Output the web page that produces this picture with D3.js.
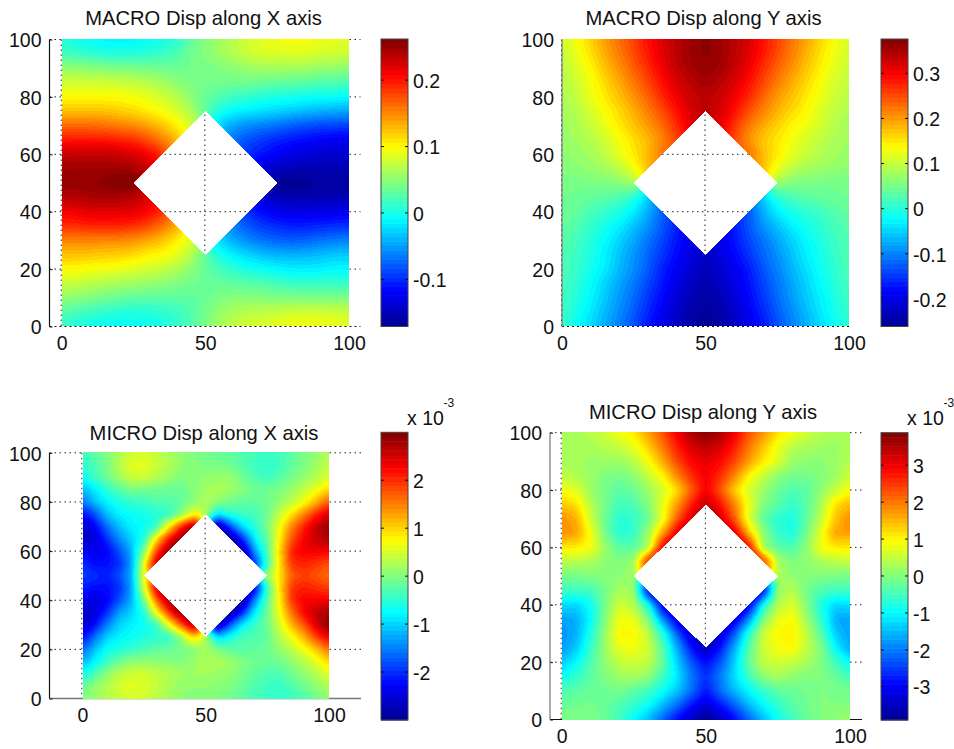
<!DOCTYPE html>
<html>
<head>
<meta charset="utf-8">
<script src="https://cdn.jsdelivr.net/npm/d3@7"></script>
<style>
	body { margin: 0; background: #fff; }
	svg { display: block; }
	text { font-family: "Liberation Sans", Arial, sans-serif; fill: #111; }
</style>
</head>
<body>
<script>
let n = null;

// rows run from y=100 down to y=0, columns from x=0 to x=100, step 5. null = the hole
let macroX = [
	[.005,-.005,-.01,-.015,-.015,-.015,-.01,-.005,.005,.03,.045,.06,.07,.08,.09,.095,.1,.1,.095,.09,.09],
	[.02,.015,.01,.005,.005,.005,.01,.015,.025,.04,.05,.06,.07,.08,.085,.085,.085,.085,.08,.08,.075],
	[.055,.055,.05,.05,.045,.045,.04,.04,.035,.04,.04,.045,.05,.055,.06,.06,.06,.06,.055,.055,.05],
	[.08,.08,.08,.08,.075,.075,.07,.06,.05,.045,.04,.04,.04,.04,.035,.035,.03,.03,.025,.025,.02],
	[.1,.1,.1,.1,.1,.095,.09,.08,.07,.05,.035,.025,.015,.01,.005,0,0,-.005,-.005,-.005,-.01],
	[.125,.125,.125,.125,.12,.115,.105,.095,.085,.065,.03,0,-.01,-.015,-.02,-.025,-.03,-.035,-.04,-.045,-.045],
	[.165,.165,.165,.16,.155,.15,.14,.125,.105,.08,n,-.03,-.05,-.06,-.065,-.07,-.08,-.085,-.09,-.09,-.095],
	[.2,.2,.2,.2,.195,.19,.175,.155,.13,n,n,n,-.07,-.085,-.095,-.105,-.11,-.115,-.12,-.125,-.125],
	[.23,.235,.235,.235,.23,.225,.215,.19,n,n,n,n,n,-.1,-.11,-.12,-.13,-.135,-.14,-.14,-.14],
	[.25,.25,.25,.25,.25,.245,.23,n,n,n,n,n,n,n,-.14,-.145,-.15,-.155,-.155,-.155,-.155],
	[.255,.255,.255,.26,.265,.27,n,n,n,n,n,n,n,n,n,-.175,-.175,-.17,-.165,-.165,-.16],
	[.24,.24,.245,.245,.245,.235,.22,n,n,n,n,n,n,n,-.14,-.15,-.155,-.155,-.155,-.155,-.155],
	[.21,.215,.22,.22,.22,.22,.21,.19,n,n,n,n,n,-.1,-.115,-.125,-.13,-.13,-.13,-.125,-.125],
	[.19,.19,.195,.195,.195,.19,.18,.16,.135,n,n,n,-.065,-.08,-.095,-.1,-.105,-.105,-.1,-.1,-.095],
	[.15,.15,.15,.15,.15,.145,.135,.125,.105,.085,n,-.025,-.045,-.06,-.07,-.075,-.08,-.075,-.07,-.065,-.06],
	[.125,.125,.125,.12,.12,.115,.105,.1,.09,.07,.03,0,-.015,-.025,-.035,-.04,-.04,-.04,-.035,-.03,-.03],
	[.1,.1,.095,.095,.09,.085,.08,.075,.065,.05,.035,.02,.01,0,-.005,-.01,-.015,-.015,-.015,-.01,-.01],
	[.075,.075,.07,.065,.06,.06,.055,.05,.045,.04,.035,.035,.03,.03,.025,.02,.015,.015,.015,.015,.015],
	[.055,.05,.045,.04,.035,.03,.03,.03,.03,.03,.035,.045,.05,.05,.05,.045,.045,.045,.045,.045,.045],
	[.03,.02,.015,.01,.005,.005,.005,.01,.015,.025,.04,.055,.065,.07,.07,.075,.08,.08,.08,.08,.075],
	[.01,0,-.005,-.01,-.01,-.01,-.005,0,.01,.025,.045,.065,.075,.085,.09,.095,.1,.1,.1,.095,.09]
];

let macroY = [
	[.1,.135,.165,.2,.23,.26,.29,.32,.34,.36,.37,.36,.34,.32,.29,.26,.225,.195,.165,.135,.11],
	[.095,.125,.155,.19,.22,.25,.285,.315,.34,.36,.37,.36,.34,.315,.285,.25,.22,.185,.155,.125,.105],
	[.09,.115,.14,.175,.205,.24,.27,.305,.335,.355,.365,.355,.335,.305,.27,.235,.205,.175,.145,.12,.1],
	[.085,.105,.13,.16,.19,.22,.255,.29,.32,.34,.355,.34,.32,.29,.255,.22,.19,.16,.135,.11,.095],
	[.08,.1,.125,.15,.175,.205,.235,.275,.305,.33,.34,.33,.305,.275,.235,.2,.175,.15,.125,.105,.09],
	[.075,.09,.11,.135,.16,.185,.22,.25,.29,.32,.345,.32,.29,.25,.215,.185,.16,.14,.115,.095,.085],
	[.07,.085,.1,.125,.15,.175,.2,.23,.27,.32,n,.32,.265,.22,.19,.165,.14,.13,.11,.09,.08],
	[.07,.08,.09,.105,.13,.155,.18,.21,.26,n,n,n,.26,.2,.17,.15,.13,.11,.095,.085,.075],
	[.065,.07,.08,.095,.125,.15,.18,.23,n,n,n,n,n,.24,.175,.15,.12,.105,.09,.08,.07],
	[.06,.065,.07,.08,.095,.125,.19,n,n,n,n,n,n,n,.19,.125,.095,.08,.075,.07,.065],
	[.05,.05,.055,.055,.06,.085,n,n,n,n,n,n,n,n,n,.08,.055,.055,.05,.05,.05],
	[.05,.045,.04,.035,.025,0,-.06,n,n,n,n,n,n,n,-.06,0,.025,.035,.04,.045,.05],
	[.045,.04,.02,.01,-.005,-.03,-.07,-.13,n,n,n,n,n,-.14,-.07,-.03,-.01,.005,.015,.03,.04],
	[.04,.03,.01,-.01,-.03,-.06,-.09,-.125,-.17,n,n,n,-.175,-.125,-.09,-.06,-.03,-.01,.005,.02,.035],
	[.035,.02,0,-.02,-.05,-.075,-.11,-.14,-.17,-.2,n,-.2,-.17,-.14,-.11,-.08,-.05,-.025,-.005,.015,.03],
	[.03,.015,-.005,-.03,-.06,-.09,-.12,-.15,-.18,-.205,-.225,-.205,-.18,-.15,-.12,-.09,-.06,-.03,-.01,.01,.03],
	[.03,.01,-.01,-.03,-.065,-.09,-.125,-.165,-.19,-.215,-.235,-.215,-.195,-.17,-.13,-.1,-.07,-.04,-.015,.005,.03],
	[.025,.005,-.02,-.05,-.08,-.105,-.14,-.17,-.2,-.225,-.24,-.225,-.2,-.175,-.14,-.11,-.08,-.05,-.02,0,.025],
	[.025,0,-.025,-.055,-.085,-.115,-.15,-.18,-.21,-.235,-.25,-.235,-.21,-.18,-.15,-.115,-.085,-.055,-.03,-.005,.02],
	[.02,-.01,-.035,-.065,-.095,-.125,-.16,-.19,-.22,-.245,-.255,-.245,-.22,-.19,-.16,-.125,-.095,-.065,-.035,-.01,.015],
	[.02,-.02,-.045,-.075,-.105,-.135,-.175,-.2,-.23,-.25,-.26,-.25,-.23,-.2,-.175,-.135,-.105,-.075,-.045,-.02,.01]
];

// micro values are in units of 10^-3, as on the colorbars
let microX = [
	[-.4,-.2,0,.25,.45,.5,.4,.25,.1,0,-.1,-.15,-.2,-.3,-.35,-.4,-.35,-.2,-.05,.1,.3],
	[-.55,-.3,-.05,.3,.6,.6,.45,.3,.1,.05,0,-.05,-.1,-.25,-.4,-.5,-.4,-.2,0,.2,.4],
	[-.7,-.4,-.1,.2,.45,.45,.3,.15,0,.05,.1,.15,.15,-.1,-.3,-.4,-.25,-.05,.1,.3,.55],
	[-1.2,-.85,-.5,-.25,-.05,-.1,-.1,-.15,-.15,.05,.2,.25,.2,.05,-.1,-.1,0,.15,.4,.65,1],
	[-1.6,-1.1,-.8,-.6,-.45,-.4,-.3,-.25,-.2,.05,.25,.1,-.1,-.2,-.2,-.1,.1,.35,.7,1.2,1.8],
	[-2.3,-1.8,-1.1,-.8,-.7,-.65,-.55,-.5,0,.7,.3,-.9,-.5,-.4,-.35,-.1,.4,.9,1.5,2.1,2.5],
	[-2.7,-2.3,-1.6,-1.1,-.8,-.7,-.5,.8,2,2.9,n,-3,-1.8,-.9,-.5,-.05,.7,1.5,2.1,2.6,2.9],
	[-2.7,-2.5,-2,-1.4,-1,-.6,.9,2.1,3,n,n,n,-3,-2,-.8,-.15,.8,1.8,2.3,2.6,2.75],
	[-2.3,-2.4,-2.3,-1.8,-1.2,0,1.8,3,n,n,n,n,n,-2.9,-1.3,-.3,1,2.1,2.35,2.3,2.3],
	[-2,-2.2,-2.2,-2,-1.3,.6,2.6,n,n,n,n,n,n,n,-2,-.4,.9,2,2.05,1.95,1.8],
	[-1.9,-2,-2.1,-1.8,-1.2,.7,n,n,n,n,n,n,n,n,n,.2,.9,1.7,1.9,1.75,1.6],
	[-2.1,-2.2,-2.2,-2,-1.3,.5,2.5,n,n,n,n,n,n,n,-2.4,-.4,.9,2,2.1,2,1.9],
	[-2.4,-2.5,-2.3,-1.8,-1.2,-.1,1.6,2.9,n,n,n,n,n,-3,-1.4,-.2,.8,2,2.3,2.3,2.3],
	[-2.7,-2.5,-2,-1.3,-1,-.6,.7,1.9,3,n,n,n,-3,-2,-.8,-.1,.7,1.6,2.3,2.6,2.8],
	[-2.7,-2.2,-1.5,-1,-.8,-.7,-.5,.6,1.7,2.8,n,-2.9,-1.7,-.8,-.4,-.1,.5,1.2,1.8,2.5,3],
	[-2.3,-1.6,-1,-.8,-.7,-.6,-.5,-.5,.1,1,.3,-1,-.6,-.3,-.3,-.2,.3,.7,1.2,1.9,2.4],
	[-1.7,-1.1,-.7,-.55,-.45,-.3,-.2,-.15,-.1,.05,.2,0,-.2,-.25,-.2,-.1,.1,.35,.7,1.1,1.6],
	[-1.2,-.8,-.4,-.1,.1,.1,.1,.05,0,.15,.3,.25,.2,0,-.1,-.15,-.1,.1,.3,.6,1],
	[-.7,-.3,.1,.35,.5,.5,.4,.3,.2,.2,.2,.15,.1,-.05,-.2,-.3,-.3,-.1,.1,.3,.6],
	[-.2,.1,.3,.5,.6,.55,.4,.25,.1,.1,.1,.05,0,-.15,-.3,-.4,-.45,-.3,-.1,.1,.3],
	[0,.15,.3,.4,.5,.45,.35,.2,.1,.05,.05,0,-.1,-.2,-.35,-.4,-.45,-.4,-.3,-.1,.1]
];

let microY = [
	[.3,.3,.4,.6,.9,1.1,1.7,2.3,3,3.6,3.9,3.6,3,2.3,1.8,1.2,.9,.6,.4,.3,.3],
	[.3,.3,.3,.4,.5,.8,1.3,2,2.7,3.2,3.4,3.2,2.7,2,1.4,.8,.4,.3,.2,.2,.3],
	[.3,.25,.2,.2,.2,.4,.9,1.6,2.4,2.9,3.1,2.9,2.4,1.7,1.1,.7,.2,.1,.1,.2,.4],
	[.5,.35,.2,0,-.1,.1,.5,1,1.9,2.6,3,2.6,1.9,1,.5,.1,-.1,-.1,0,.2,.6],
	[.9,.7,.2,-.1,-.3,-.2,.2,.6,1.2,2.2,3,2.3,1.3,.6,.2,-.2,-.4,-.3,.1,.5,1],
	[1.4,1.2,.4,-.1,-.5,-.4,0,.8,1.7,2.7,3.4,2.8,1.9,.8,0,-.3,-.6,-.3,.3,1.2,1.5],
	[1.8,1.6,.6,-.2,-.7,-.6,-.2,.8,2.2,3.3,n,3.3,2.2,.7,-.3,-.7,-.8,-.3,.5,1.4,1.9],
	[1.8,1.7,.9,-.1,-.7,-.6,.2,1.6,3.2,n,n,n,3.2,1.4,.1,-.6,-.8,-.1,.8,1.7,1.7],
	[1.1,1.1,.9,.2,-.3,-.3,.3,3.1,n,n,n,n,n,3,.2,-.3,-.4,.1,.9,1.1,1.1],
	[.4,.4,.3,.1,0,.2,2.9,n,n,n,n,n,n,n,2.6,.3,0,.1,.3,.4,.5],
	[-.1,-.1,0,.05,.1,.2,n,n,n,n,n,n,n,n,n,.3,.1,.05,0,-.05,-.1],
	[-.5,-.5,-.5,-.1,.3,.2,-3.1,n,n,n,n,n,n,n,-3,.2,.4,-.1,-.4,-.5,-.5],
	[-1.2,-1.3,-.9,-.1,.6,.4,-.8,-3.2,n,n,n,n,n,-3.2,-.8,.4,.7,0,-.8,-1.3,-1.2],
	[-1.7,-1.6,-1,0,.9,.8,0,-1.8,-3.3,n,n,n,-3.3,-1.8,0,.8,1,.2,-.6,-1.6,-1.7],
	[-1.8,-1.6,-.8,.2,1,1,.5,-.7,-2.2,-3.4,n,-3.4,-2.2,-.7,.6,1,1.1,.5,-.3,-1.4,-1.7],
	[-1.8,-1.4,-.6,.2,.8,.9,.6,-.3,-1.6,-2.8,-3.6,-2.8,-1.6,-.3,.6,.9,1,.5,0,-1,-1.7],
	[-1.4,-1,-.4,.1,.5,.6,.5,-.2,-1.3,-2.3,-2.9,-2.3,-1.3,-.2,.5,.6,.5,.3,0,-.5,-1],
	[-.9,-.6,-.3,0,.2,.3,.1,-.5,-1.1,-2,-2.6,-2,-1.2,-.5,.1,.3,.1,0,0,-.2,-.5],
	[-.4,-.3,-.2,-.15,-.1,-.3,-.5,-.9,-1.4,-2.1,-2.8,-2.1,-1.5,-1,-.6,-.3,-.2,-.1,0,-.05,-.1],
	[-.2,-.15,-.1,-.2,-.4,-.6,-.9,-1.5,-2.1,-2.8,-3.3,-2.8,-2.2,-1.5,-1,-.6,-.3,-.15,0,0,0],
	[0,0,0,-.2,-.5,-1,-1.5,-2.2,-2.9,-3.5,-3.9,-3.5,-2.9,-2.2,-1.5,-.9,-.5,-.2,0,.1,.2]
];

let titles = ['MACRO Disp along X axis', 'MACRO Disp along Y axis', 'MICRO Disp along X axis', 'MICRO Disp along Y axis'];
let ranges = [[-.171, .262], [-.261, .376], [-3, 3], [-3.9, 3.88]];
let xTicks = [0, 50, 100];
let yTicks = [0, 20, 40, 60, 80, 100];
let barTicks = [
	[-.1, 0, .1, .2],
	[-.2, -.1, 0, .1, .2, .3],
	[-2, -1, 0, 1, 2],
	[-3, -2, -1, 0, 1, 2, 3]
];

// MATLAB jet with 64 levels
let jetStops = [0, .125, .375, .625, .875, 1];
let jetColors = ['#000090', '#0000ff', '#00ffff', '#ffff00', '#ff0000', '#800000'];
let jetScale = d3.scaleLinear().domain(jetStops).range(jetColors);
let jet64 = d3.range(64).map(i => jetScale((i + .5) / 64));

let panels = [
	{ data: macroX, left: 49.5, right: 360.5, top: 39.5, bottom: 326.5, x0: 61.7, x100: 349, barX: 381, barTop: 39, barBottom: 326.5, titleX: 203.5, titleY: 25, smooth: 5 },
	{ data: macroY, left: 562, right: 849, top: 39.5, bottom: 326.5, x0: 562, x100: 849, barX: 881, barTop: 39, barBottom: 326.5, titleX: 703.5, titleY: 25, smooth: 5 },
	{ data: microX, left: 49.5, right: 361, top: 452.8, bottom: 698.5, x0: 82.3, x100: 329, barX: 381, barTop: 432.3, barBottom: 720, titleX: 204, titleY: 440, smooth: 2.5, exponent: true },
	{ data: microY, left: 550, right: 862, top: 432.7, bottom: 719.5, x0: 561.7, x100: 850, barX: 881, barTop: 432.7, barBottom: 720, titleX: 703, titleY: 419, smooth: 2.5, exponent: true }
];

let svg = d3.select('body').append('svg').attr('width', 954).attr('height', 749);

// Value at a data position, bilinear inside a mesh cell. A cell cut by the hole has one null corner,
// that corner is taken from the plane through the other three.
let sample = (data, vx, vy) => {
	let fx = vx / 5, fy = (100 - vy) / 5;
	let i = Math.min(Math.floor(fx), 19), j = Math.min(Math.floor(fy), 19);
	let tx = fx - i, ty = fy - j;
	let a = data[j][i], b = data[j][i + 1], c = data[j + 1][i], d = data[j + 1][i + 1];
	if ([a, b, c, d].filter(v => v === null).length > 1) return NaN;
	if (a === null) a = b + c - d;
	if (b === null) b = a + d - c;
	if (c === null) c = a + d - b;
	if (d === null) d = b + c - a;
	return (a * (1 - tx) + b * tx) * (1 - ty) + (c * (1 - tx) + d * tx) * ty;
};

// Gaussian pass along one direction that skips the hole, so the diamond edge stays sharp
let smoothPass = (src, w, h, kernel, step, count, lines, lineStep) => {
	let out = new Float64Array(src.length);
	let r = (kernel.length - 1) / 2;
	for (let l = 0; l < lines; l++) {
		for (let s = 0; s < count; s++) {
			let k = l * lineStep + s * step;
			if (isNaN(src[k])) { out[k] = NaN; continue; }
			let sum = 0, weight = 0;
			for (let o = -r; o <= r; o++) {
				let t = s + o;
				if (t < 0 || t >= count) continue;
				let v = src[l * lineStep + t * step];
				if (isNaN(v)) continue;
				sum += v * kernel[o + r];
				weight += kernel[o + r];
			}
			out[k] = sum / weight;
		}
	}
	return out;
};

let drawSurface = (p, g, xScale, yScale, colorScale) => {
	let x1 = Math.ceil(xScale(0)), x2 = Math.ceil(xScale(100));
	let y1 = Math.floor(yScale(100)), y2 = Math.floor(yScale(0)) + (p.exponent ? 1 : 0);
	let w = x2 - x1, h = y2 - y1;

	let values = new Float64Array(w * h);
	for (let py = 0; py < h; py++) {
		for (let px = 0; px < w; px++) {
			let vx = Math.max(0, Math.min(100, xScale.invert(x1 + px + .5)));
			let vy = Math.max(0, Math.min(100, yScale.invert(y1 + py + .5)));
			values[py * w + px] = Math.abs(vx - 50) + Math.abs(vy - 50) < 25 ? NaN : sample(p.data, vx, vy);
		}
	}

	let r = Math.ceil(p.smooth * 2.5);
	let kernel = d3.range(-r, r + 1).map(o => Math.exp(-o * o / (2 * p.smooth * p.smooth)));
	values = smoothPass(values, w, h, kernel, 1, w, h, w);
	values = smoothPass(values, w, h, kernel, w, h, w, 1);

	let canvas = document.createElement('canvas');
	canvas.width = w;
	canvas.height = h;
	let ctx = canvas.getContext('2d');
	let img = ctx.createImageData(w, h);
	values.forEach((v, i) => {
		if (isNaN(v)) return;
		let c = d3.rgb(colorScale(v));
		img.data[i * 4] = c.r;
		img.data[i * 4 + 1] = c.g;
		img.data[i * 4 + 2] = c.b;
		img.data[i * 4 + 3] = 255;
	});
	ctx.putImageData(img, 0, 0);

	g.append('image')
	 .attr('x', x1)
	 .attr('y', y1)
	 .attr('width', w)
	 .attr('height', h)
	 .attr('href', canvas.toDataURL());
};

panels.forEach((p, idx) => {
	let g = svg.append('g');
	let range = ranges[idx];

	let xScale = d3.scaleLinear().domain([0, 100]).range([p.x0, p.x100]);
	let yScale = d3.scaleLinear().domain([0, 100]).range([p.bottom, p.top]);
	let colorScale = d3.scaleQuantize().domain(range).range(jet64);

	// grid sits under the surface, so it only shows through the hole and beside the mesh
	g.selectAll('.gridx').data(xTicks).enter().append('line')
	 .attr('x1', d => xScale(d) - .5).attr('x2', d => xScale(d) - .5)
	 .attr('y1', p.top).attr('y2', p.bottom)
	 .attr('stroke', '#222').attr('stroke-dasharray', '1.5,3.5');
	g.selectAll('.gridy').data(yTicks.slice(1)).enter().append('line')
	 .attr('x1', p.left).attr('x2', p.right)
	 .attr('y1', d => yScale(d)).attr('y2', d => yScale(d))
	 .attr('stroke', '#222').attr('stroke-dasharray', '1.5,3.5');

	// lower panels: bottom axis is hidden by the surface, it only shows at both ends
	if (p.exponent) {
		g.append('line').attr('x1', p.left).attr('x2', p.right).attr('y1', p.bottom).attr('y2', p.bottom)
		 .attr('stroke', idx === 2 ? '#777' : '#111').attr('stroke-width', idx === 2 ? 1.6 : 1.2);
	}

	drawSurface(p, g, xScale, yScale, colorScale);

	if (!p.exponent) {
		g.append('line').attr('x1', p.left).attr('x2', p.right).attr('y1', p.bottom).attr('y2', p.bottom)
		 .attr('stroke', '#111').attr('stroke-width', 1.2).attr('stroke-dasharray', '2,3');
	}

	let xAxis = d3.axisBottom(xScale).tickValues(xTicks).tickSize(0).tickPadding(6).tickFormat(d3.format('d'));
	let yAxis = d3.axisLeft(yScale).tickValues(yTicks).tickSize(0).tickPadding(8).tickFormat(d3.format('d'));
	if (p.left < p.x0) yAxis.tickSizeInner(-3);

	let xg = g.append('g').attr('transform', 'translate(0,' + p.bottom + ')').call(xAxis);
	xg.select('.domain').remove();
	xg.selectAll('text').attr('font-size', 19.5).attr('y', 6).attr('dy', '.92em');

	let yg = g.append('g').attr('transform', 'translate(' + p.left + ',0)').call(yAxis);
	yg.select('.domain').remove();
	yg.selectAll('text').attr('font-size', 19.5).attr('dy', '.37em');
	yg.selectAll('.tick line').attr('stroke', '#111');

	g.append('line').attr('x1', p.left).attr('x2', p.left).attr('y1', p.top).attr('y2', p.bottom)
	 .attr('stroke', idx % 2 ? '#777' : '#111').attr('stroke-width', 1.2);

	g.append('text')
	 .attr('x', p.titleX)
	 .attr('y', p.titleY)
	 .attr('text-anchor', 'middle')
	 .attr('font-size', 20.2)
	 .text(titles[idx]);

	// colorbar
	let barW = 27;
	let barScale = d3.scaleLinear().domain(range).range([p.barBottom, p.barTop]);
	let bandH = (p.barBottom - p.barTop) / 64;
	g.selectAll('.band').data(jet64).enter().append('rect')
	 .attr('x', p.barX)
	 .attr('y', (d, i) => p.barBottom - (i + 1) * bandH)
	 .attr('width', barW)
	 .attr('height', bandH + .5)
	 .attr('fill', d => d);
	g.append('rect')
	 .attr('x', p.barX).attr('y', p.barTop)
	 .attr('width', barW).attr('height', p.barBottom - p.barTop)
	 .attr('fill', 'none').attr('stroke', '#444');

	let barAxis = d3.axisRight(barScale).tickValues(barTicks[idx]).tickSize(0).tickPadding(5).tickFormat(d => d);
	let bg = g.append('g').attr('transform', 'translate(' + (p.barX + barW) + ',0)').call(barAxis);
	bg.select('.domain').remove();
	bg.selectAll('text').attr('font-size', 19.5).attr('dy', '.37em');
	g.selectAll('.barMark').data(barTicks[idx]).enter().append('path')
	 .attr('d', d => d3.line()([[p.barX, barScale(d)], [p.barX + 3, barScale(d)]]) + d3.line()([[p.barX + barW - 3, barScale(d)], [p.barX + barW, barScale(d)]]))
	 .attr('stroke', '#111');

	if (p.exponent) {
		g.append('text').attr('x', p.barX + 26).attr('y', 425).attr('font-size', 19.5).text('x 10');
		g.append('text').attr('x', p.barX + 62.5).attr('y', 407).attr('font-size', 12).text('-3');
	}
});
</script>
</body>
</html>
